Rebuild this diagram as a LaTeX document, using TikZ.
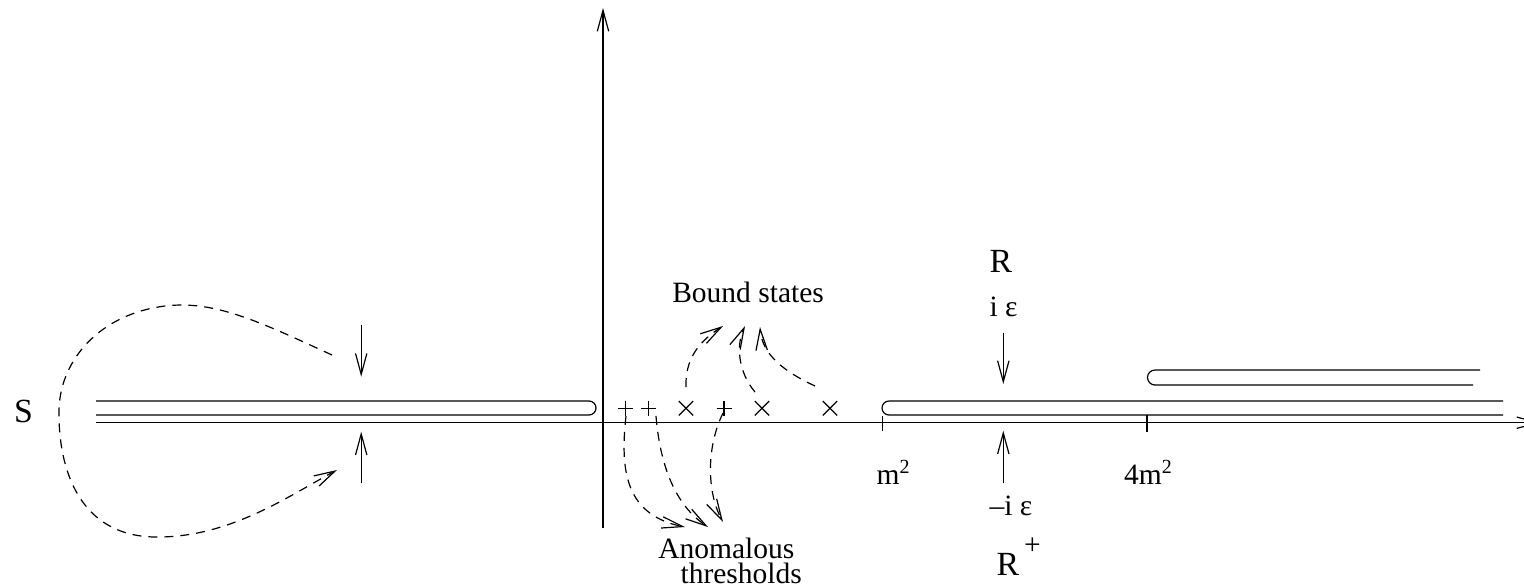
\documentclass[tikz,border=0pt]{standalone}
\usepackage{fontspec}
\setmainfont{Liberation Serif}
\usetikzlibrary{arrows.meta}
\newcommand\fnA{\fontsize{14.75}{17}\selectfont}
\newcommand\fnB{\fontsize{16.9}{19}\selectfont}
\newcommand\supn[1]{\raisebox{5.5pt}{\fontsize{10}{12}\selectfont #1}}
\begin{document}
\begin{tikzpicture}[x=0.5pt,y=-0.5pt,line width=0.6pt,
  tipx/.style={-{Straight Barb[length=10.5pt,width=5.7pt]}},
  dasharrow/.style={tipx,dash pattern=on 4.5pt off 3.5pt},
  lbl/.style={inner sep=0pt,anchor=base west,font=\fnA},
  biglbl/.style={inner sep=0pt,anchor=base west,font=\fnB}]
\useasboundingbox (0,0) rectangle (1524,584);
% axes
\coordinate (ax0) at (96,422.7);
\coordinate (ax1) at (1540,422.7);
\coordinate (ay0) at (603,528);
\coordinate (ay1) at (603,8);
\draw[tipx] (ax0) -- (ax1);
\draw[tipx] (ay0) -- (ay1);
% cuts
\draw (96,401) -- (589,401) arc[start angle=-90,end angle=90,radius=7] -- (96,415);
\draw (1503,401) -- (889,401) arc[start angle=-90,end angle=-270,radius=7] -- (1503,415);
\draw (1480,370) -- (1155,370) arc[start angle=-90,end angle=-270,radius=7.5] -- (1473,385);
% ticks
\coordinate (tm) at (882.7,416);
\coordinate (t4m) at (1147,415);
\draw (tm) -- ++(0,15);
\draw (t4m) -- ++(0,17);
% crosses
\coordinate (p1) at (625.7,408.3);
\coordinate (p2) at (648.7,408.3);
\coordinate (p3) at (724,408.3);
\coordinate (x1) at (686,408.3);
\coordinate (x2) at (762,408.3);
\coordinate (x3) at (830,408.3);
\foreach \c in {p1,p2,p3}{
  \draw (\c) ++(-7.5,0) -- ++(15,0);
  \draw (\c) ++(0,-7.6) -- ++(0,15.2);
}
\foreach \c in {x1,x2,x3}{
  \draw (\c) ++(-7.2,-7.2) -- ++(14.4,14.4);
  \draw (\c) ++(-7.2,7.2) -- ++(14.4,-14.4);
}
% labels
\node[biglbl] (S) at (13.5,422.5) {S};
\node[lbl] (bs) at (671.7,302.7) {Bound states};
\node[lbl] (an) at (657.7,558.3) {Anomalous};
\node[lbl] (th) at (680,583.3) {thresholds};
\node[lbl] (m2) at (876,484.3) {m\supn{2}};
\node[lbl] (m4) at (1123.5,484.3) {4m\supn{2}};
\node[biglbl] (R) at (989,272.3) {R};
\node[lbl] (ie) at (989,316) {i ε};
\node[lbl] (mie) at (989,515) {–i ε};
\node[biglbl] (Rp) at (996,575) {R\hspace{2.5pt}\raisebox{10.3pt}{\fnA +}};
% solid arrows
\coordinate (la0) at (361.2,325);   \coordinate (la1) at (361.2,376.7);
\coordinate (lb0) at (361.2,483.3); \coordinate (lb1) at (361.2,431.7);
\coordinate (ra0) at (1003.3,332.7);\coordinate (ra1) at (1003.3,384);
\coordinate (rb0) at (1003.3,483.3);\coordinate (rb1) at (1003.3,430.7);
\draw[tipx] (la0) -- (la1);
\draw[tipx] (lb0) -- (lb1);
\draw[tipx] (ra0) -- (ra1);
\draw[tipx] (rb0) -- (rb1);
% loop around S
\coordinate (lp0) at (332,355);
\coordinate (lp1) at (337,470);
\draw[dasharrow] (lp0) .. controls (260,322) and (215,300) .. (165,306)
  .. controls (100,314) and (60,360) .. (59,410)
  .. controls (58,470) and (80,536) .. (155,537)
  .. controls (230,538) and (290,495) .. (lp1);
% bound states arrows
\coordinate (ba) at (723,326);
\coordinate (bb) at (745,326);
\coordinate (bc) at (760,327);
\draw[dasharrow] (686,387) .. controls (685,360) and (698,342) .. (ba);
\draw[dasharrow] (755,392) .. controls (738,372) and (736,345) .. (bb);
\draw[dasharrow] (815,386) .. controls (785,372) and (762,355) .. (bc);
% anomalous thresholds arrows
\coordinate (aa) at (685,527);
\coordinate (ab) at (708,527);
\coordinate (ac) at (723,522);
\draw[dasharrow] (626,416) .. controls (620,470) and (625,515) .. (aa);
\draw[dasharrow] (656,416) .. controls (660,465) and (675,505) .. (ab);
\draw[dasharrow] (723,413) .. controls (705,450) and (708,495) .. (ac);
\end{tikzpicture}
\end{document}
